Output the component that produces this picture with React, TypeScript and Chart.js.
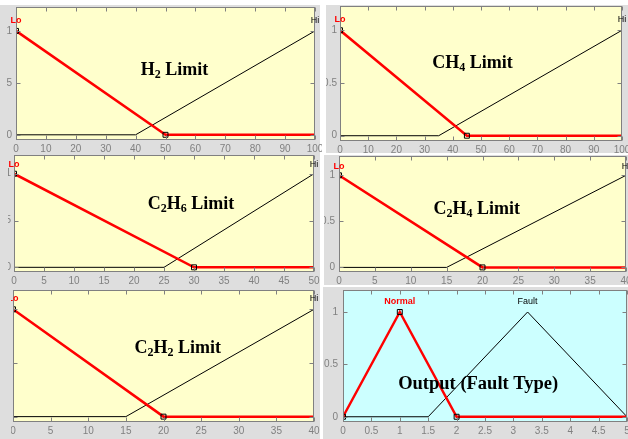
import React, { useEffect, useRef } from 'react';
import { Chart, registerables } from 'chart.js';

Chart.register(...registerables);
Chart.defaults.font.family = '"Liberation Sans", Arial, sans-serif';

// ---------------- data ----------------
const Y_TICKS = [0, 0.5, 1];

const H2_TICKS = [0, 10, 20, 30, 40, 50, 60, 70, 80, 90, 100];
const H2_LO_X = [0, 50, 100];
const H2_LO_Y = [1, 0, 0];
const H2_HI_X = [0, 40, 100];
const H2_HI_Y = [0, 0, 1];

const CH4_TICKS = [0, 10, 20, 30, 40, 50, 60, 70, 80, 90, 100];
const CH4_LO_X = [0, 45, 100];
const CH4_LO_Y = [1, 0, 0];
const CH4_HI_X = [0, 35, 100];
const CH4_HI_Y = [0, 0, 1];

const C2H6_TICKS = [0, 5, 10, 15, 20, 25, 30, 35, 40, 45, 50];
const C2H6_LO_X = [0, 30, 50];
const C2H6_LO_Y = [1, 0, 0];
const C2H6_HI_X = [0, 25, 50];
const C2H6_HI_Y = [0, 0, 1];

const C2H4_TICKS = [0, 5, 10, 15, 20, 25, 30, 35, 40];
const C2H4_LO_X = [0, 20, 40];
const C2H4_LO_Y = [1, 0, 0];
const C2H4_HI_X = [0, 15, 40];
const C2H4_HI_Y = [0, 0, 1];

const C2H2_TICKS = [0, 5, 10, 15, 20, 25, 30, 35, 40];
const C2H2_LO_X = [0, 20, 40];
const C2H2_LO_Y = [1, 0, 0];
const C2H2_HI_X = [0, 15, 40];
const C2H2_HI_Y = [0, 0, 1];

const OUT_TICKS = [0, 0.5, 1, 1.5, 2, 2.5, 3, 3.5, 4, 4.5, 5];
const OUT_NORMAL_X = [0, 1, 2, 5];
const OUT_NORMAL_Y = [0, 1, 0, 0];
const OUT_FAULT_X = [0, 1.5, 3.25, 5];
const OUT_FAULT_Y = [0, 0, 1, 0];

const LO_MARKERS = [0, 1];
const NORMAL_MARKERS = [0, 1, 2];

// ---------------- layout / style ----------------
const W = 40;
const PADR = 20;
const PADT = 24;
const HX = 22;
const YELLOW = '#ffffcc';
const CYAN = '#ccffff';
const GRAY = '#dedede';
const AXIS = '#808080';

type Seg = { t: string; sub?: boolean };

interface PanelCfg {
  id: string;
  clip: [number, number, number, number];
  box: [number, number, number, number];
  yMax: number;
  xMax: number;
  xTicks: number[];
  redX: number[];
  redY: number[];
  redMarkers: number[];
  blackX: number[];
  blackY: number[];
  redName: string;
  blackName: string;
  redNameX: number;
  blackNameX: number;
  title: Seg[];
  titleX: number;
  titleY: number;
  titleSize: number;
  bg: string;
  yPad: number;
}

const PANELS: PanelCfg[] = [
  {
    id: 'h2', clip: [7, 0, 315, 153], box: [16, 7, 315, 140], yMax: 1.23, xMax: 100,
    xTicks: H2_TICKS, redX: H2_LO_X, redY: H2_LO_Y, redMarkers: LO_MARKERS,
    blackX: H2_HI_X, blackY: H2_HI_Y, redName: 'Lo', blackName: 'Hi', redNameX: 0, blackNameX: 100,
    title: [{ t: 'H' }, { t: '2', sub: true }, { t: ' Limit' }], titleX: 53, titleY: 0.635, titleSize: 18,
    bg: YELLOW, yPad: 4,
  },
  {
    id: 'ch4', clip: [326, 0, 302, 153], box: [340, 6, 622, 141], yMax: 1.23, xMax: 100,
    xTicks: CH4_TICKS, redX: CH4_LO_X, redY: CH4_LO_Y, redMarkers: LO_MARKERS,
    blackX: CH4_HI_X, blackY: CH4_HI_Y, redName: 'Lo', blackName: 'Hi', redNameX: 0, blackNameX: 100,
    title: [{ t: 'CH' }, { t: '4', sub: true }, { t: ' Limit' }], titleX: 47, titleY: 0.7, titleSize: 18,
    bg: YELLOW, yPad: 3,
  },
  {
    id: 'c2h6', clip: [8, 153, 314, 134], box: [14, 155, 314, 272], yMax: 1.2, xMax: 50,
    xTicks: C2H6_TICKS, redX: C2H6_LO_X, redY: C2H6_LO_Y, redMarkers: LO_MARKERS,
    blackX: C2H6_HI_X, blackY: C2H6_HI_Y, redName: 'Lo', blackName: 'Hi', redNameX: 0, blackNameX: 50,
    title: [{ t: 'C' }, { t: '2', sub: true }, { t: 'H' }, { t: '6', sub: true }, { t: ' Limit' }],
    titleX: 29.5, titleY: 0.69, titleSize: 18, bg: YELLOW, yPad: 3,
  },
  {
    id: 'c2h4', clip: [324, 155, 304, 130], box: [339, 156, 626, 272], yMax: 1.21, xMax: 40,
    xTicks: C2H4_TICKS, redX: C2H4_LO_X, redY: C2H4_LO_Y, redMarkers: LO_MARKERS,
    blackX: C2H4_HI_X, blackY: C2H4_HI_Y, redName: 'Lo', blackName: 'Hi', redNameX: 0, blackNameX: 40,
    title: [{ t: 'C' }, { t: '2', sub: true }, { t: 'H' }, { t: '4', sub: true }, { t: ' Limit' }],
    titleX: 19.2, titleY: 0.64, titleSize: 18, bg: YELLOW, yPad: 4,
  },
  {
    id: 'c2h2', clip: [11, 287, 311, 152], box: [13, 290, 314, 422], yMax: 1.18, xMax: 40,
    xTicks: C2H2_TICKS, redX: C2H2_LO_X, redY: C2H2_LO_Y, redMarkers: LO_MARKERS,
    blackX: C2H2_HI_X, blackY: C2H2_HI_Y, redName: 'Lo', blackName: 'Hi', redNameX: 0, blackNameX: 40,
    title: [{ t: 'C' }, { t: '2', sub: true }, { t: 'H' }, { t: '2', sub: true }, { t: ' Limit' }],
    titleX: 21.9, titleY: 0.65, titleSize: 18, bg: YELLOW, yPad: 4,
  },
  {
    id: 'out', clip: [323, 287, 305, 152], box: [343, 290, 627, 422], yMax: 1.21, xMax: 5,
    xTicks: OUT_TICKS, redX: OUT_NORMAL_X, redY: OUT_NORMAL_Y, redMarkers: NORMAL_MARKERS,
    blackX: OUT_FAULT_X, blackY: OUT_FAULT_Y, redName: 'Normal', blackName: 'Fault', redNameX: 1, blackNameX: 3.25,
    title: [{ t: 'Output (Fault Type)' }], titleX: 2.38, titleY: 0.32, titleSize: 18.5, bg: CYAN, yPad: 5,
  },
];

const GRAY_RECTS: [number, number, number, number][] = [
  [0, 5, 320, 434],
  [326, 5, 302, 148],
  [324, 155, 304, 130],
  [323, 287, 305, 152],
];

function makePlugin(cfg: PanelCfg) {
  return {
    id: 'mfDecor_' + cfg.id,
    beforeDraw(chart: any) {
      const { ctx, chartArea: a } = chart;
      ctx.save();
      ctx.fillStyle = cfg.bg;
      ctx.fillRect(a.left, a.top, a.right - a.left, a.bottom - a.top);
      ctx.restore();
    },
    afterDraw(chart: any) {
      const { ctx, chartArea: a, scales } = chart;
      const xs = scales.x;
      const ys = scales.y;
      ctx.save();
      ctx.strokeStyle = AXIS;
      ctx.lineWidth = 1;
      const l = Math.floor(a.left) + 0.5;
      const r = Math.floor(a.right) - 0.5;
      const t = Math.floor(a.top) + 0.5;
      const b = Math.floor(a.bottom) - 0.5;
      ctx.strokeRect(l, t, r - l, b - t);
      ctx.beginPath();
      cfg.xTicks.forEach((v) => {
        const px = Math.round(xs.getPixelForValue(v)) + 0.5;
        ctx.moveTo(px, b);
        ctx.lineTo(px, b - 4);
        ctx.moveTo(px, t);
        ctx.lineTo(px, t + 4);
      });
      Y_TICKS.forEach((v) => {
        const py = Math.round(ys.getPixelForValue(v)) + 0.5;
        ctx.moveTo(l, py);
        ctx.lineTo(l + 4, py);
        ctx.moveTo(r, py);
        ctx.lineTo(r - 4, py);
      });
      ctx.stroke();

      // MF names
      const ny = ys.getPixelForValue(1.1);
      ctx.textAlign = 'center';
      ctx.textBaseline = 'middle';
      ctx.font = 'bold 9px "Liberation Sans", Arial, sans-serif';
      ctx.fillStyle = '#ff0000';
      ctx.fillText(cfg.redName, xs.getPixelForValue(cfg.redNameX), ny);
      ctx.font = '9px "Liberation Sans", Arial, sans-serif';
      ctx.fillStyle = '#000000';
      ctx.fillText(cfg.blackName, xs.getPixelForValue(cfg.blackNameX), ny);

      // title with subscripts
      const mainFont = `bold ${cfg.titleSize}px "Liberation Serif", "Times New Roman", serif`;
      const subFont = `bold 12px "Liberation Serif", "Times New Roman", serif`;
      let total = 0;
      const widths = cfg.title.map((s) => {
        ctx.font = s.sub ? subFont : mainFont;
        const w = ctx.measureText(s.t).width;
        total += w;
        return w;
      });
      let x = xs.getPixelForValue(cfg.titleX) - total / 2;
      const base = ys.getPixelForValue(cfg.titleY) + 6;
      ctx.textAlign = 'left';
      ctx.textBaseline = 'alphabetic';
      ctx.fillStyle = '#000000';
      cfg.title.forEach((s, i) => {
        ctx.font = s.sub ? subFont : mainFont;
        ctx.fillText(s.t, x, s.sub ? base + 3 : base);
        x += widths[i];
      });
      ctx.restore();
    },
  };
}

function Panel({ cfg }: { cfg: PanelCfg }) {
  const ref = useRef<HTMLCanvasElement | null>(null);
  const [L, T, R, B] = cfg.box;
  const cw = R - L + W + PADR;
  const ch = B - T + PADT + HX;
  const [cx, cy, cwid, chei] = cfg.clip;

  useEffect(() => {
    if (!ref.current) return;
    const redPts = cfg.redX.map((x, i) => ({ x, y: cfg.redY[i] }));
    const blackPts = cfg.blackX.map((x, i) => ({ x, y: cfg.blackY[i] }));
    const redRadii = cfg.redX.map((_, i) => (cfg.redMarkers.includes(i) ? 3.5 : 0));
    const tickFont = { size: 10, family: '"Liberation Sans", Arial, sans-serif' };
    const chart = new Chart(ref.current, {
      type: 'scatter',
      data: {
        datasets: [
          {
            data: redPts,
            showLine: true,
            borderColor: '#ff0000',
            borderWidth: 2.5,
            pointRadius: redRadii,
            pointStyle: 'rect',
            pointBorderColor: '#000000',
            pointBackgroundColor: 'rgba(0,0,0,0)',
            pointBorderWidth: 1,
            order: 0,
          },
          {
            data: blackPts,
            showLine: true,
            borderColor: '#000000',
            borderWidth: 1,
            pointRadius: 0,
            order: 1,
          },
        ],
      },
      options: {
        animation: false,
        responsive: false,
        devicePixelRatio: 1,
        events: [],
        layout: { padding: { left: 0, right: PADR, top: PADT, bottom: 0 } },
        plugins: { legend: { display: false }, tooltip: { enabled: false }, title: { display: false } },
        scales: {
          x: {
            type: 'linear',
            min: 0,
            max: cfg.xMax,
            grid: { display: false, drawTicks: false },
            border: { display: false },
            ticks: {
              font: tickFont,
              color: AXIS,
              padding: 3,
              autoSkip: false,
              maxRotation: 0,
              callback: (v: any) => String(v),
            },
            afterBuildTicks: (s: any) => {
              s.ticks = cfg.xTicks.map((v) => ({ value: v }));
            },
            afterFit: (s: any) => {
              s.height = HX;
            },
          },
          y: {
            type: 'linear',
            min: -0.05,
            max: cfg.yMax,
            grid: { display: false, drawTicks: false },
            border: { display: false },
            ticks: {
              font: tickFont,
              color: AXIS,
              padding: cfg.yPad,
              autoSkip: false,
              callback: (v: any) => String(v),
            },
            afterBuildTicks: (s: any) => {
              s.ticks = Y_TICKS.map((v) => ({ value: v }));
            },
            afterFit: (s: any) => {
              s.width = W;
            },
          },
        },
      } as any,
      plugins: [makePlugin(cfg)],
    });
    return () => chart.destroy();
  }, []);

  return (
    <div style={{ position: 'absolute', left: cx, top: cy, width: cwid, height: chei, overflow: 'hidden' }}>
      <canvas
        ref={ref}
        width={cw}
        height={ch}
        style={{ position: 'absolute', left: L - W - cx, top: T - PADT - cy, width: cw, height: ch }}
      />
    </div>
  );
}

export default function App() {
  return (
    <div
      style={{
        position: 'fixed',
        left: 0,
        top: 0,
        width: 628,
        height: 439,
        background: '#ffffff',
        overflow: 'hidden',
      }}
    >
      {GRAY_RECTS.map((g, i) => (
        <div
          key={'g' + i}
          style={{ position: 'absolute', left: g[0], top: g[1], width: g[2], height: g[3], background: GRAY }}
        />
      ))}
      {PANELS.map((p) => (
        <Panel key={p.id} cfg={p} />
      ))}
    </div>
  );
}
